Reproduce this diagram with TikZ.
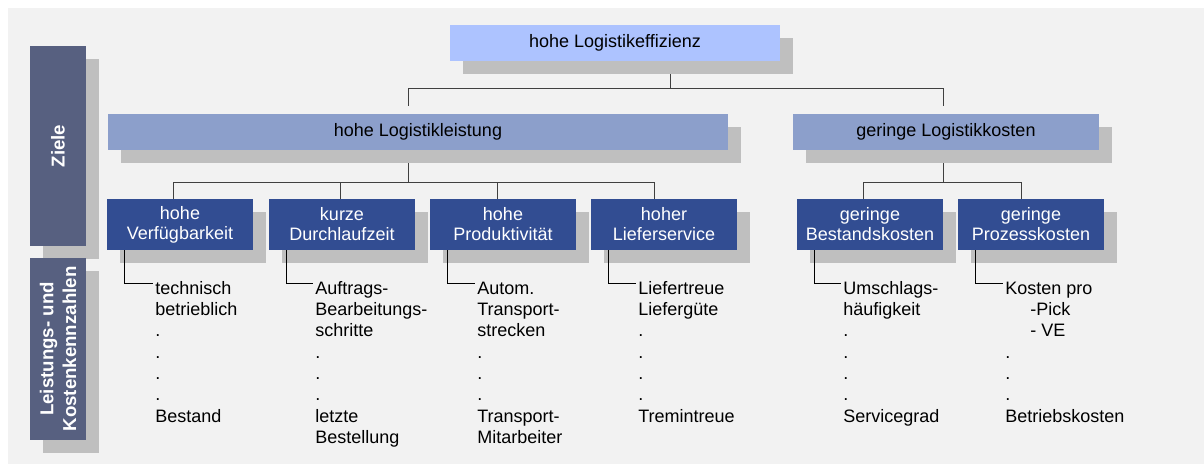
\documentclass[tikz,border=0pt]{standalone}
\usepackage{fontspec}
\setmainfont{Liberation Sans}
\usetikzlibrary{shadows,calc}

\definecolor{bggray}{RGB}{242,242,242}
\definecolor{shadowgray}{RGB}{191,191,191}
\definecolor{toplight}{RGB}{173,195,255}
\definecolor{midblue}{RGB}{140,159,203}
\definecolor{darkblue}{RGB}{50,77,146}
\definecolor{slate}{RGB}{87,96,128}

\pgfdeclarelayer{back}
\pgfdeclarelayer{lines}
\pgfsetlayers{back,lines,main}

\tikzset{
  boxshadow/.style={drop shadow={shadow xshift=10pt,shadow yshift=-10pt,fill=shadowgray,opacity=1}},
  goalbox/.style={boxshadow, inner sep=0pt, minimum height=27pt, font=\fontsize{13.5}{16}\selectfont},
  topbox/.style={goalbox, fill=toplight, minimum width=247.5pt},
  midbox/.style={goalbox, fill=midblue},
  subbox/.style={boxshadow, fill=darkblue, text=white, minimum width=109.5pt, minimum height=38.25pt,
    inner sep=0pt, align=center, font=\fontsize{13.5}{15}\selectfont},
  sidebox/.style={boxshadow, fill=slate, text=white, rotate=90, minimum height=42pt, inner sep=0pt,
    align=center, font=\bfseries\fontsize{14}{17}\selectfont},
  kpilist/.style={anchor=north west, inner sep=0pt, align=left, font=\fontsize{13.5}{16}\selectfont},
  treeline/.style={draw=black!75, line width=0.75pt},
  leafline/.style={draw=black, line width=0.75pt}
}

\begin{document}
\begin{tikzpicture}[x=0.75pt,y=0.75pt,yscale=-1,xscale=1]
\useasboundingbox (0,0) rectangle (1204,464);

% background
\begin{pgfonlayer}{back}
\fill[bggray] (8,8) rectangle (1204,464);
\end{pgfonlayer}

% side labels
\node[sidebox, minimum width=150pt] (ziele) at (58,146) {Ziele};
\node[sidebox, minimum width=136.5pt] (kennz) at (58,349) {Leistungs- und\\Kostenkennzahlen};

% goals
\node[topbox] (eff) at (615,43) {hohe Logistikeffizienz};
\node[midbox, minimum width=465pt] (leist) at (418,132) {hohe Logistikleistung};
\node[midbox, minimum width=229.5pt] (kost) at (946,132) {geringe Logistikkosten};

% sub goals
\node[subbox] (verf) at (180,224.5) {hohe\\Verfügbarkeit};
\node[subbox] (durch) at (342,224.5) {kurze\\Durchlaufzeit};
\node[subbox] (prod) at (503,224.5) {hohe\\Produktivität};
\node[subbox] (lief) at (664,224.5) {hoher\\Lieferservice};
\node[subbox] (best) at (870,224.5) {geringe\\Bestandskosten};
\node[subbox] (proz) at (1031,224.5) {geringe\\Prozesskosten};

% key figures
\node[kpilist] (kpiverf) at (155,279) {\strut technisch\\betrieblich\\.\\.\\.\\.\\Bestand};
\node[kpilist] (kpidurch) at (315,279) {\strut Auftrags-\\Bearbeitungs-\\schritte\\.\\.\\.\\letzte\\Bestellung};
\node[kpilist] (kpiprod) at (477,279) {\strut Autom.\\Transport-\\strecken\\.\\.\\.\\Transport-\\Mitarbeiter};
\node[kpilist] (kpilief) at (638,279) {\strut Liefertreue\\Liefergüte\\.\\.\\.\\.\\Tremintreue};
\node[kpilist] (kpibest) at (843,279) {\strut Umschlags-\\häufigkeit\\.\\.\\.\\.\\Servicegrad};
\node[kpilist] (kpiproz) at (1005,279) {\strut Kosten pro\\\hspace*{18.75pt}-Pick\\\hspace*{18.75pt}- VE\\.\\.\\.\\Betriebskosten};

% connectors
\begin{pgfonlayer}{lines}
\draw[treeline] ($(eff.south)+(55,0)$) -- ++(0,27) coordinate (jtop) -| ($(leist.north)+(-10,-8)$);
\draw[treeline] (jtop) -| ($(kost.north)+(-3,-8)$);
\draw[treeline] ($(leist.south)+(-10,0)$) -- ++(0,32) coordinate (jleist);
\foreach \n/\dx in {verf/-7,durch/-2,prod/-6,lief/-10}
  \draw[treeline] (jleist) -| ($(\n.north)+(\dx,0)$);
\draw[treeline] ($(kost.south)+(-3,0)$) -- ++(0,32) coordinate (jkost);
\foreach \n/\dx in {best/-7,proz/-10}
  \draw[treeline] (jkost) -| ($(\n.north)+(\dx,0)$);
\end{pgfonlayer}
\foreach \n in {verf,durch,prod,lief,best,proz}
  \draw[leafline] (\n.south west) ++(18,0) |- ($(kpi\n.north west)+(-2,4)$);

\end{tikzpicture}
\end{document}
